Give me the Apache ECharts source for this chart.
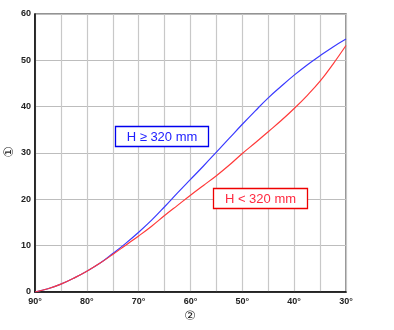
<!DOCTYPE html>
<html><head><meta charset="utf-8">
<script src="https://cdn.jsdelivr.net/npm/echarts@6/dist/echarts.min.js"></script>
<style>html,body{margin:0;padding:0;background:#fff}#c{width:394px;height:330px}</style>
</head><body><div id="c"></div>
<script>
var angles = [90, 87.5, 85, 82.5, 80, 77.5, 75, 72.5, 70, 67.5, 65, 62.5, 60, 57.5, 55, 52.5, 50, 47.5, 45, 42.5, 40, 37.5, 35, 32.5, 30];
var highH = [0, 0.7, 1.7, 3.0, 4.5, 6.2, 8.3, 10.5, 12.9, 15.5, 18.4, 21.4, 24.3, 27.2, 30.2, 33.2, 36.2, 39.1, 41.9, 44.4, 46.8, 49.0, 51.0, 52.9, 54.6];
var lowH = [0, 0.7, 1.7, 3.0, 4.5, 6.2, 8.1, 10.1, 12.1, 14.2, 16.5, 18.7, 20.9, 23.0, 25.1, 27.4, 29.9, 32.2, 34.6, 37.0, 39.6, 42.4, 45.5, 49.2, 53.2];
var labelHigh = 'H ≥ 320 mm';
var labelLow = 'H < 320 mm';
var yName = '①', xName = '②';

function pairs(xs, ys){ return xs.map(function(x,i){return [x, ys[i]];}); }
var chart = echarts.init(document.getElementById('c'));
var font = 'Liberation Sans, Arial, sans-serif';
chart.setOption({
  animation: false,
  grid: {left: 35, right: 48, top: 14, bottom: 38, outerBoundsMode: 'none', containLabel: false,
         show: true, borderColor: '#707070', borderWidth: 1.5},
  xAxis: {
    type: 'value', min: 30, max: 90, interval: 5, inverse: true,
    axisLine: {lineStyle: {color: '#000', width: 1.5}},
    axisTick: {show: false},
    axisLabel: {fontSize: 9, color: '#222', fontFamily: font, fontWeight: 'bold', margin: 5,
      formatter: function(v){ return v % 10 === 0 ? v + '°' : ''; }},
    splitLine: {lineStyle: {color: '#c8c8c8', width: 1.2}}
  },
  yAxis: {
    type: 'value', min: 0, max: 60, interval: 10,
    axisLine: {show: true, lineStyle: {color: '#000', width: 1.5}},
    axisTick: {show: false},
    axisLabel: {fontSize: 9, color: '#222', fontFamily: font, fontWeight: 'bold', margin: 4},
    splitLine: {lineStyle: {color: '#bdbdbd', width: 1.2}}
  },
  series: [
    {type: 'line', data: pairs(angles, highH), smooth: 0.4, showSymbol: false,
     lineStyle: {color: '#3a3aff', width: 1.2}, z: 3},
    {type: 'line', data: pairs(angles, lowH), smooth: 0.4, showSymbol: false,
     lineStyle: {color: '#ff3a3a', width: 1.2}, z: 4}
  ],
  graphic: [
    {type: 'text', x: 10, y: 152, rotation: Math.PI / 2,
     style: {text: yName, fill: '#222', font: '13px "DejaVu Sans", sans-serif', align: 'center', verticalAlign: 'middle'}},
    {type: 'text', x: 190, y: 317,
     style: {text: xName, fill: '#222', font: '13px "DejaVu Sans", sans-serif', align: 'center', verticalAlign: 'middle'}},
    {type: 'rect', shape: {x: 115.5, y: 126.5, width: 93, height: 20},
     style: {fill: '#fff', stroke: '#0000ee', lineWidth: 1.3}, z: 10},
    {type: 'text', x: 162, y: 137, style: {text: labelHigh, fill: '#2020ff', font: '13px ' + font, align: 'center', verticalAlign: 'middle'}, z: 11},
    {type: 'rect', shape: {x: 213.5, y: 188.5, width: 94, height: 20},
     style: {fill: '#fff', stroke: '#ee0000', lineWidth: 1.3}, z: 10},
    {type: 'text', x: 260.5, y: 199, style: {text: labelLow, fill: '#ff2a40', font: '13px ' + font, align: 'center', verticalAlign: 'middle'}, z: 11}
  ]
});
</script></body></html>
